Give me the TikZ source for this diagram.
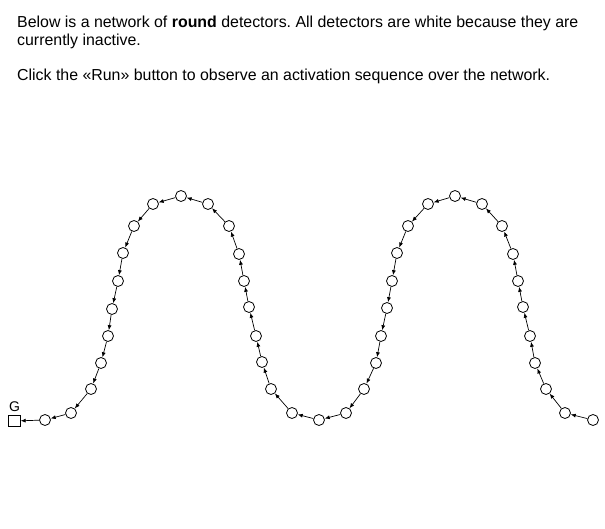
\documentclass[tikz,border=0pt]{standalone}
\usepackage{fontspec}
\setmainfont{Liberation Sans}
\usetikzlibrary{arrows.meta}
\frenchspacing

\begin{document}
\begin{tikzpicture}[x=1pt,y=-1pt,>={Latex[length=5pt,width=4pt]}]
        \useasboundingbox (0,0) rectangle (605,529);
        \tikzset{detector/.style={circle,draw,fill=white,line width=0.8pt,minimum size=11pt,inner sep=0pt},
                 textline/.style={anchor=base west,inner sep=0pt,font=\fontsize{15.9}{18}\selectfont}}
        \node[textline] (intro1) at (17,28) {Below is a network of \textbf{round} detectors. All detectors are white because they are};
        \node[textline] (intro2) at (17,46) {currently inactive.};
        \node[textline] (hint) at (17,81) {Click the «Run» button to observe an activation sequence over the network.};
        % generator
        \node[draw,fill=white,line width=0.8pt,minimum size=11.5pt,inner sep=0pt] (g) at (14.5,421) {};
        \node[font=\fontsize{14}{14}\selectfont,inner sep=0pt] (glabel) at (14.5,407) {G};
        % detectors
        \foreach \x/\y [count=\i] in {45/420,71/413,91/389,101/363,108/336,112/309,118/281,123/253,134/226,153/204,
                181/196,208/204,229/226,239/254,244/281,249/307,256/336,262/362,271/389,292/413,
                319/420,346/413,364/389,376/363,381/336,387/308,392/281,397/253,408/226,428/204,
                455/196,482/204,502/226,513/254,518/281,523/307,530/336,535/363,546/389,565/413,593/420}
            \node[detector] (d\i) at (\x,\y) {};
        \draw[->,line width=0.7pt] (d1) -- (g);
        \foreach \i [evaluate=\i as \j using int(\i-1)] in {2,...,41}
            \draw[->,line width=0.7pt] (d\i) -- (d\j);
\end{tikzpicture}
\end{document}
